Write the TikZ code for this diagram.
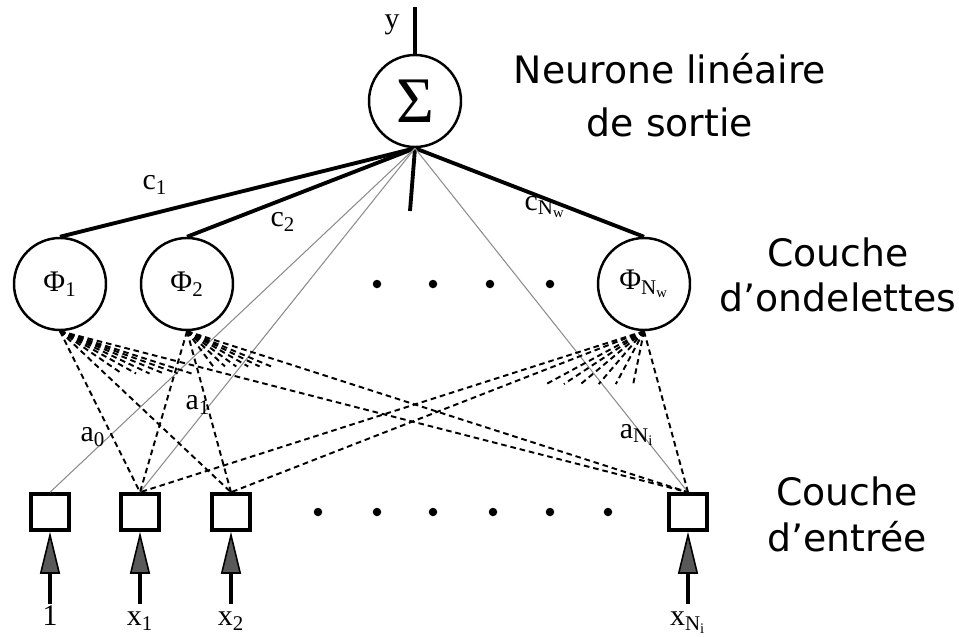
\documentclass[tikz,border=0pt]{standalone}
\usepackage{fontspec}
\setmainfont{Liberation Serif}
\newfontfamily\sansfont{DejaVu Sans}
\usetikzlibrary{arrows.meta,calc}

\tikzset{
	neurone/.style={circle, draw, line width=1.4pt, minimum size=1.84cm, inner sep=0pt},
	entree/.style={rectangle, draw, line width=2pt, minimum width=0.76cm, minimum height=0.72cm, inner sep=0pt},
	poids/.style={line width=2.2pt},
	lien/.style={black!45, line width=0.6pt},
	ondel/.style={dash pattern=on 3.2pt off 2.2pt, line width=1.1pt},
	pastille/.style={circle, fill, inner sep=0pt, minimum size=0.17cm},
	couche/.style={font=\sansfont\fontsize{21.5}{26}\selectfont, align=center},
	fleche/.style={line width=2pt, -{Triangle[length=0.84cm, width=0.4cm, fill=black!65, line width=0.9pt]}}
}

\begin{document}
\begin{tikzpicture}[font=\fontsize{17}{20}\selectfont]
	\useasboundingbox (0,0) rectangle (19.18,12.72);

	% neurones
	\node[neurone, font=\fontsize{37}{40}\selectfont] (S) at (8.3,10.7) {Σ};
	\node[neurone] (P1) at (1.2,7.04) {Φ\textsubscript{1}};
	\node[neurone] (P2) at (3.74,7.04) {Φ\textsubscript{2}};
	\node[neurone] (PN) at (12.88,7.04) {Φ\textsubscript{N\textsubscript{w}}};
	\foreach \x [count=\k] in {7.54,8.66,9.8,11.0}
		\node[pastille] (m\k) at (\x,7.04) {};

	% entrees
	\node[entree] (E0) at (1.0,2.48) {};
	\node[entree] (E1) at (2.8,2.48) {};
	\node[entree] (E2) at (4.62,2.48) {};
	\node[entree] (EN) at (13.76,2.48) {};
	\foreach \x [count=\k] in {6.36,7.54,8.66,9.86,11.0,12.16}
		\node[pastille] (d\k) at (\x,2.48) {};

	% sortie
	\coordinate (Y) at (8.3,12.58);
	\draw[poids] (S.north) -- (Y);
	\node at (7.84,12.22) {y};

	% poids c
	\coordinate (C0) at (8.2,8.5);
	\draw[poids] (S.south) -- (P1.north);
	\draw[poids] (S.south) -- (P2.north);
	\draw[poids] (S.south) -- (PN.north);
	\draw[poids] (S.south) -- (C0);
	\node at (3.1,9.02) {c\textsubscript{1}};
	\node at (5.66,8.28) {c\textsubscript{2}};
	\node at (10.9,8.58) {c\textsubscript{N\textsubscript{w}}};

	% liens directs a
	\draw[lien] (S.south) -- (E0.north);
	\draw[lien] (S.south) -- (E1.north);
	\draw[lien] (S.south) -- (EN.north);
	\foreach \p [count=\k] in {(7.64,8.48),(8.0,8.56),(8.6,8.46),(9.0,8.66)} {
		\coordinate (A\k) at \p;
		\draw[lien] (S.south) -- (A\k);
	}
	\node at (1.86,3.98) {a\textsubscript{0}};
	\node at (3.96,4.62) {a\textsubscript{1}};
	\node at (12.74,4.02) {a\textsubscript{N\textsubscript{i}}};

	% ondelettes vers entrees
	\foreach \p in {P1,P2,PN}
		\foreach \e in {E1,E2,EN}
			\draw[ondel] (\p.south) -- (\e.north);
	\foreach \k in {1,...,6} {
		\draw[ondel] (P1.south) -- ($(P1.south)!0.24!(d\k.north)$);
		\draw[ondel] (P2.south) -- ($(P2.south)!0.2!(d\k.north)$);
		\draw[ondel] (PN.south) -- ($(PN.south)!0.3!(d\k.north)$);
	}

	% fleches d'entree
	\foreach \e/\x/\t in {E0/1.0/1, E1/2.8/x\textsubscript{1}, E2/4.62/x\textsubscript{2}, EN/13.76/x\textsubscript{N\textsubscript{i}}} {
		\coordinate (b\e) at (\x,0.64);
		\draw[fleche] (b\e) -- (\e.south);
		\node[anchor=base] (l\e) at (\x,0.21) {\t};
	}

	% couches
	\node[couche, font=\sansfont\fontsize{21.5}{30}\selectfont] (T1) at (13.4,10.82) {Neurone linéaire\\de sortie};
	\node[couche] (T2) at (16.76,7.22) {Couche\\d’ondelettes};
	\node[couche] (T3) at (16.94,2.43) {Couche\\d’entrée};
\end{tikzpicture}
\end{document}
